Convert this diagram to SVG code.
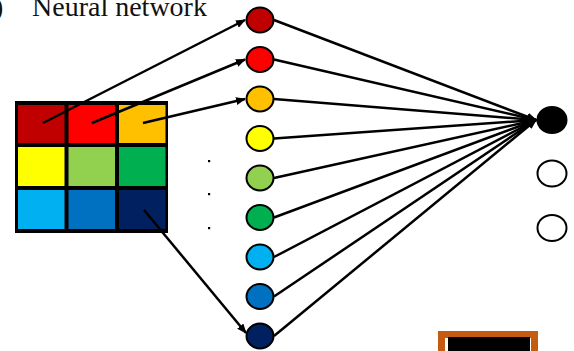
<svg xmlns="http://www.w3.org/2000/svg" width="574" height="351" viewBox="0 0 574 351">
<defs>
<marker id="ah" markerWidth="10" markerHeight="8" refX="9" refY="4" orient="auto" markerUnits="userSpaceOnUse">
<path d="M0,0 L10,4 L0,8 Z" fill="#000"/>
</marker>
<style>
.t{font-family:"Liberation Serif","Times New Roman",serif;font-size:28px;fill:#111}
.n{stroke:#000;stroke-width:2}
.c line{stroke:#000;stroke-width:2.5;marker-end:url(#ah)}
</style>
</defs>
<rect width="574" height="351" fill="#fff"/>
<text class="t" x="-6" y="16">)</text>
<text class="t" x="32" y="16">Neural network</text>
<g id="grid">
<rect x="15" y="101" width="153" height="132" fill="#000"/>
<rect x="18" y="105" width="46.5" height="38" fill="#C00000"/>
<rect x="68.5" y="105" width="46.5" height="38" fill="#FF0000"/>
<rect x="119" y="105" width="46.5" height="38" fill="#FFC000"/>
<rect x="18" y="147" width="46.5" height="39" fill="#FFFF00"/>
<rect x="68.5" y="147" width="46.5" height="39" fill="#92D050"/>
<rect x="119" y="147" width="46.5" height="39" fill="#00B050"/>
<rect x="18" y="190" width="46.5" height="39" fill="#00B0F0"/>
<rect x="68.5" y="190" width="46.5" height="39" fill="#0070C0"/>
<rect x="119" y="190" width="46.5" height="39" fill="#002060"/>
</g>
<g id="dots" fill="#000">
<rect x="208" y="160" width="2.2" height="2.2"/>
<rect x="208" y="193" width="2.2" height="2.2"/>
<rect x="208" y="227" width="2.2" height="2.2"/>
</g>
<g id="connectors" class="c">
<line x1="43" y1="123" x2="245" y2="20"/>
<line x1="92" y1="123" x2="245" y2="59.5"/>
<line x1="143" y1="123" x2="245" y2="99"/>
<line x1="144" y1="210" x2="246" y2="333"/>
<line x1="274" y1="20" x2="536" y2="120"/>
<line x1="274" y1="59.5" x2="536" y2="120"/>
<line x1="274" y1="99" x2="536" y2="120"/>
<line x1="274" y1="138.5" x2="536" y2="120"/>
<line x1="274" y1="178" x2="536" y2="120"/>
<line x1="274" y1="217.5" x2="536" y2="120"/>
<line x1="274" y1="257" x2="536" y2="120"/>
<line x1="274" y1="296.5" x2="536" y2="120"/>
<line x1="274" y1="336" x2="536" y2="120"/>
</g>
<g id="h1"><ellipse class="n" cx="260" cy="20" rx="13.5" ry="12.5" fill="#C00000"/></g>
<g id="h2"><ellipse class="n" cx="260" cy="59.5" rx="13.5" ry="12.5" fill="#FF0000"/></g>
<g id="h3"><ellipse class="n" cx="260" cy="99" rx="13.5" ry="12.5" fill="#FFC000"/></g>
<g id="h4"><ellipse class="n" cx="260" cy="138.5" rx="13.5" ry="12.5" fill="#FFFF00"/></g>
<g id="h5"><ellipse class="n" cx="260" cy="178" rx="13.5" ry="12.5" fill="#92D050"/></g>
<g id="h6"><ellipse class="n" cx="260" cy="217.5" rx="13.5" ry="12.5" fill="#00B050"/></g>
<g id="h7"><ellipse class="n" cx="260" cy="257" rx="13.5" ry="12.5" fill="#00B0F0"/></g>
<g id="h8"><ellipse class="n" cx="260" cy="296.5" rx="13.5" ry="12.5" fill="#0070C0"/></g>
<g id="h9"><ellipse class="n" cx="260" cy="336" rx="13.5" ry="12.5" fill="#002060"/></g>
<g id="o1"><ellipse class="n" cx="552" cy="120" rx="14.5" ry="13" fill="#000"/></g>
<g id="o2"><ellipse class="n" cx="552" cy="173.5" rx="14.5" ry="13" fill="#fff"/></g>
<g id="o3"><ellipse class="n" cx="552" cy="228" rx="14.5" ry="13" fill="#fff"/></g>
<g id="box">
<rect x="441.5" y="334.5" width="93" height="30" fill="#fff" stroke="#C55A11" stroke-width="7"/>
<rect x="448" y="337" width="82" height="20" fill="#000"/>
</g>
</svg>
